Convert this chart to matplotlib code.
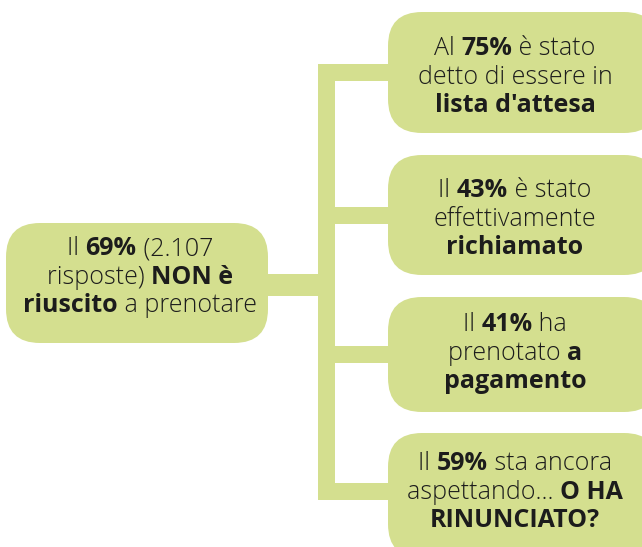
import matplotlib
matplotlib.use("Agg")
import matplotlib.pyplot as plt
from matplotlib.patches import FancyBboxPatch, Rectangle

# left (root) box: lines made of (text, bold) runs
root_lines = [
    [("Il ", False), ("69%", True), (" (2.107", False)],
    [("risposte) ", False), ("NON è", True)],
    [("riuscito", True), (" a prenotare", False)],
]

# right boxes
branch_lines = [
    [[("Al ", False), ("75%", True), (" è stato", False)],
     [("detto di essere in", False)],
     [("lista d'attesa", True)]],
    [[("Il ", False), ("43%", True), (" è stato", False)],
     [("effettivamente", False)],
     [("richiamato", True)]],
    [[("Il ", False), ("41%", True), (" ha", False)],
     [("prenotato ", False), ("a", True)],
     [("pagamento", True)]],
    [[("Il ", False), ("59%", True), (" sta ancora", False)],
     [("aspettando... ", False), ("O HA", True)],
     [("RINUNCIATO?", True)]],
]

green = "#d4df8f"
ink = "#1c1c1c"
W, H = 642, 547

fig = plt.figure(figsize=(W / 100, H / 100), dpi=100)
ax = fig.add_axes([0, 0, 1, 1])
ax.set_xlim(0, W)
ax.set_ylim(H, 0)
ax.axis("off")

# geometry in pixels
root_box = (6, 223, 262, 120)
branch_boxes = [(388, 12, 270, 121), (388, 155, 270, 120),
                (388, 297, 270, 115), (388, 433, 270, 125)]
trunk_x, bar = 318, 17

def rbox(x, y, w, h, r=34):
    p = FancyBboxPatch((x + r, y + r), w - 2 * r, h - 2 * r,
                       boxstyle=f"round,pad={r},rounding_size={r}",
                       fc=green, ec="none", zorder=2)
    ax.add_patch(p)

# connectors
centers = [b[1] + b[3] / 2 for b in branch_boxes[:3]] + [491]
top, bottom = centers[0] - bar / 2, centers[-1] + bar / 2
ax.add_patch(Rectangle((trunk_x, top), bar, bottom - top, fc=green, ec="none", zorder=1))
for cy in centers:
    ax.add_patch(Rectangle((trunk_x, cy - bar / 2), 388 - trunk_x + 10, bar,
                           fc=green, ec="none", zorder=1))
ax.add_patch(Rectangle((250, 274), trunk_x - 250 + 1, 22, fc=green, ec="none", zorder=1))

rbox(*root_box)
for b in branch_boxes:
    rbox(*b)

fig.canvas.draw()
renderer = fig.canvas.get_renderer()
FS = 18

def draw_line(runs, cx, by):
    texts = []
    for s, b in runs:
        t = ax.text(0, by, s, fontsize=FS, family="Open Sans",
                    weight="bold" if b else "light", color=ink,
                    va="baseline", ha="left", zorder=3)
        texts.append(t)
    widths = [t.get_window_extent(renderer).width for t in texts]
    x = cx - sum(widths) / 2
    for t, w in zip(texts, widths):
        t.set_x(x)
        x += w

def draw_block(lines, cx, first, step=28.7):
    for i, runs in enumerate(lines):
        draw_line(runs, cx, first + i * step)

draw_block(root_lines, 140, 255)
first_baselines = [55, 197, 331, 470]
for lines, by in zip(branch_lines, first_baselines):
    draw_block(lines, 515, by)

fig.savefig("out.png", dpi=100)
